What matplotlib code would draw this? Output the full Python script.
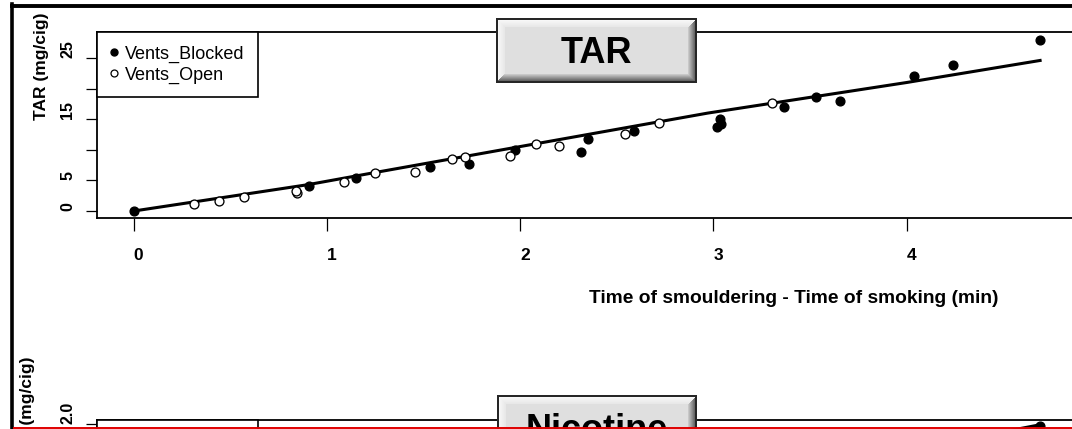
import numpy as np
import matplotlib
matplotlib.use("Agg")
import matplotlib.pyplot as plt
from matplotlib.lines import Line2D

plt.rcParams['font.family'] = ['Liberation Sans', 'DejaVu Sans']

# TAR data
blocked_x = [0, 0.906, 1.152, 1.534, 1.736, 1.975, 2.314, 2.353, 2.591, 3.02, 3.04,
             3.035, 3.366, 3.533, 3.654, 4.037, 4.239, 4.69]
blocked_y = [0, 4.14, 5.45, 7.13, 7.73, 9.97, 9.7, 11.7, 13.07, 13.7, 14.3,
             15.0, 17.0, 18.7, 17.9, 22.1, 23.9, 28.0]
open_x = [0.312, 0.441, 0.569, 0.843, 0.84, 1.087, 1.249, 1.454, 1.649, 1.715,
          1.946, 2.082, 2.201, 2.543, 2.72, 3.305]
open_y = [1.09, 1.63, 2.23, 3.0, 3.25, 4.74, 6.16, 6.43, 8.44, 8.88,
          8.93, 11.0, 10.6, 12.6, 14.4, 17.6]
tar_fit_x = [0, 0.9, 1.25, 2.1, 2.97, 4.0, 4.69]
tar_fit_y = [0, 4.3, 6.3, 11.1, 16.0, 21.0, 24.6]
tar_yticks = [0, 5, 10, 15, 20, 25]
tar_yticklabels = ['0', '5', '', '15', '', '25']
xticks = [0, 1, 2, 3, 4]

# Nicotine panel (only its top edge is visible)
nic_blocked_x = [4.69]
nic_blocked_y = [1.98]
nic_fit_x = [4.0, 4.69]
nic_fit_y = [1.70, 1.995]

W, H = 1072, 429
fig = plt.figure(figsize=(W / 100, H / 100), dpi=100)


def px_rect(x0, y0, x1, y1):
    return [x0 / W, 1 - y1 / H, (x1 - x0) / W, (y1 - y0) / H]


def button(rect, text, size):
    # grey bevelled label box
    bx = fig.add_axes(px_rect(*rect), zorder=5)
    bw = int(rect[2] - rect[0])
    bh = int(rect[3] - rect[1])
    yy, xx = np.mgrid[0:bh, 0:bw]
    d = np.stack([yy, bh - 1 - yy, xx, bw - 1 - xx])
    edge = d.argmin(axis=0)
    dm = d.min(axis=0)
    bev = 9.0
    img = np.full((bh, bw), 0.875)
    light = (edge == 0) | (edge == 2)
    t = np.clip(dm / bev, 0, 1)
    inb = dm < bev
    img[inb & light] = (0.99 - 0.09 * t)[inb & light]
    img[inb & ~light] = (0.28 + 0.57 * t)[inb & ~light]
    img[dm < 2] = 0.15
    bx.imshow(np.dstack([img] * 3), aspect='auto', interpolation='nearest')
    bx.set_axis_off()
    bx.text(0.5, 0.45, text, transform=bx.transAxes, ha='center', va='center',
            fontsize=size, fontweight='bold')
    return bx


def style_axes(ax):
    ax.set_xlim(-0.19, 5.0)
    for s in ['left', 'bottom', 'top', 'right']:
        ax.spines[s].set_linewidth(1.3)
    ax.tick_params(axis='y', length=7.6, width=0.9, pad=8, labelsize=11.5)
    ax.tick_params(axis='x', length=9, width=0.9, pad=13, labelsize=12.5)
    for lab in ax.get_yticklabels():
        lab.set_rotation(90)
        lab.set_va('bottom')
        lab.set_fontweight('bold')


def add_legend(ax):
    handles = [Line2D([], [], ls='none', marker='o', color='black', ms=5),
               Line2D([], [], ls='none', marker='o', mfc='white', mec='black',
                      mew=0.9, ms=5)]
    leg = ax.legend(handles, ['Vents_Blocked', 'Vents_Open'], loc='upper left',
                    bbox_to_anchor=(0, 1), borderaxespad=0, fancybox=False,
                    edgecolor='black', framealpha=1, fontsize=13, handlelength=0.4,
                    handletextpad=0.4, labelspacing=0.2, borderpad=0.75)
    leg.get_frame().set_linewidth(1.2)
    return leg


# ---- TAR panel
ax = fig.add_axes(px_rect(97, 32, 1100, 217.7))
ax.plot(tar_fit_x, tar_fit_y, color='black', lw=2.2, zorder=2)
ax.plot(blocked_x, blocked_y, 'o', color='black', ms=6.3, zorder=3)
ax.plot(open_x, open_y, 'o', mfc='white', mec='black', mew=0.95, ms=6.4, zorder=3)
ax.set_ylim(-1.09, 29.25)
ax.set_xticks(xticks)
ax.set_xticklabels([str(v) for v in xticks], fontweight='bold')
ax.set_yticks(tar_yticks)
ax.set_yticklabels(tar_yticklabels)
style_axes(ax)
for lab in ax.get_xticklabels():
    lab.set_ha('left')

ax.set_xlabel('Time of smouldering - Time of smoking (min)', fontsize=13.8,
              fontweight='bold', va='center')
ax.xaxis.set_label_coords(0.6945, -0.436)
ax.set_ylabel('TAR (mg/cig)', fontsize=12.5, fontweight='bold', va='center')
ax.yaxis.set_label_coords(-0.0555, 0.815)
add_legend(ax)

button((496, 18, 697, 83), 'TAR', 26)

# ---- Nicotine panel (cut off by the image edge)
ax2 = fig.add_axes(px_rect(97, 420, 1100, 606))
ax2.plot(nic_fit_x, nic_fit_y, color='black', lw=2.2, zorder=2)
ax2.plot(nic_blocked_x, nic_blocked_y, 'o', color='black', ms=6.3, zorder=3)
ax2.set_ylim(-0.1, 2.05)
ax2.set_yticks([2.0])
ax2.set_yticklabels(['2.0'])
ax2.set_xticks([])
style_axes(ax2)
add_legend(ax2)
fig.text(28 / W, 1 - 357 / H, 'Nicotine (mg/cig)', rotation=90, ha='center',
         va='top', fontsize=12.5, fontweight='bold')

button((497, 395, 697, 460), 'Nicotine', 26)

# outer frame and red cut line
fig.add_artist(Line2D([12 / W, 12 / W], [0, 1 - 4 / H], color='black', lw=2.6,
                      transform=fig.transFigure, solid_capstyle='projecting'))
fig.add_artist(Line2D([12 / W, 1], [1 - 6 / H, 1 - 6 / H], color='black', lw=2.8,
                      transform=fig.transFigure))
fig.add_artist(Line2D([14 / W, 1], [1 - 428 / H, 1 - 428 / H], color='#e00000', lw=1.4,
                      transform=fig.transFigure, zorder=20))

fig.savefig('out.png', dpi=100)
